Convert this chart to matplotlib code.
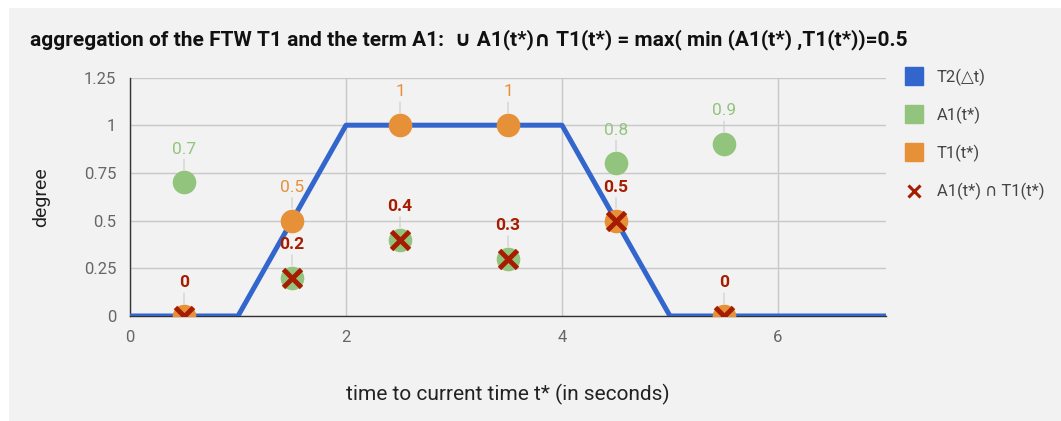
#!/usr/bin/env python3
# -*- coding: utf-8 -*-

import matplotlib
matplotlib.use("Agg")
import matplotlib.pyplot as plt
from matplotlib.lines import Line2D
from matplotlib.patches import Rectangle

plt.rcParams['font.family'] = ['Roboto', 'DejaVu Sans']

# data
t2_x = [0, 1, 2, 4, 5, 7]
t2_y = [0, 0, 1, 1, 0, 0]

t_pts = [0.5, 1.5, 2.5, 3.5, 4.5, 5.5]
a1 = [0.7, 0.2, 0.4, 0.3, 0.8, 0.9]
t1 = [0, 0.5, 1, 1, 0.5, 0]
a1_and_t1 = [0, 0.2, 0.4, 0.3, 0.5, 0]

yticks = [0, 0.25, 0.5, 0.75, 1, 1.25]
ytick_labels = ['0', '0.25', '0.5', '0.75', '1', '1.25']
xticks = [0, 2, 4, 6]

title = "aggregation of the FTW T1 and the term A1:  \u222A A1(t*)\u2229 T1(t*) = max( min (A1(t*) ,T1(t*))=0.5"

BLUE = '#3366cc'
GREEN = '#93c47d'
ORANGE = '#e69138'
RED = '#a61c00'
BG = '#f2f2f2'

fig = plt.figure(figsize=(10.61, 4.21), dpi=100)
fig.patch.set_facecolor('white')
fig.patches.append(Rectangle((9 / 1061, 0), 1, 1 - 8 / 421, transform=fig.transFigure,
                             facecolor=BG, edgecolor='none', zorder=-10))

ax = fig.add_axes([130 / 1061, 105 / 421, 756 / 1061, 238.5 / 421])
ax.set_facecolor(BG)

ax.plot(t2_x, t2_y, color=BLUE, lw=3.6, zorder=3, solid_capstyle='butt')
ax.plot(t_pts, a1, 'o', color=GREEN, ms=17, mew=0, zorder=4)
ax.plot(t_pts, t1, 'o', color=ORANGE, ms=17, mew=0, zorder=5)
ax.plot(t_pts, a1_and_t1, 'x', color=RED, ms=13, mew=3.5, zorder=6)

def label(x, y, txt, color, bold=False):
    ax.annotate(txt, (x, y), xytext=(0, 24), textcoords='offset points',
                ha='center', va='center', color=color, fontsize=12.5,
                fontweight='bold' if bold else 'normal', zorder=7,
                arrowprops=dict(arrowstyle='-', color='#cccccc', lw=0.8,
                                shrinkA=0, shrinkB=9))

for x, a, b, c in zip(t_pts, a1, t1, a1_and_t1):
    if a > b:
        label(x, a, f"{a:g}", GREEN)
    else:
        label(x, b, f"{b:g}", ORANGE)
    label(x, c, f"{c:g}", RED, bold=True)

ax.set_xlim(0, 7)
ax.set_ylim(0, 1.25)
ax.set_yticks(yticks)
ax.set_yticklabels(ytick_labels)
ax.set_xticks(xticks)
ax.tick_params(length=0, labelsize=12, colors='#666666', pad=10)
ax.grid(True, color='#c8c8c8', lw=1)
ax.set_axisbelow(True)
for s in ['top', 'right']:
    ax.spines[s].set_visible(False)
for s in ['left', 'bottom']:
    ax.spines[s].set_color('#333333')
    ax.spines[s].set_linewidth(1)
    ax.spines[s].set_zorder(2.5)

ax.set_ylabel("degree", fontsize=14, color='#222222', labelpad=24)
ax.set_xlabel("time to current time t* (in seconds)", fontsize=15, color='#222222', labelpad=28)

fig.text(30 / 1061, 1 - 40 / 421, title, fontsize=15, fontweight='bold',
         va='center', ha='left', color='#111111')

handles = [
    Line2D([], [], marker='s', ls='none', color=BLUE, ms=13),
    Line2D([], [], marker='s', ls='none', color=GREEN, ms=13),
    Line2D([], [], marker='s', ls='none', color=ORANGE, ms=13),
    Line2D([], [], marker='x', ls='none', color=RED, ms=8, mew=2.2),
]
labels = ["T2(\u25b3t)", "A1(t*)", "T1(t*)", "A1(t*) \u2229 T1(t*)"]
leg = fig.legend(handles, labels, loc='upper left', bbox_to_anchor=(897 / 1061, 1 - 62 / 421),
                 frameon=False, fontsize=12, labelspacing=1.25, handletextpad=0.8,
                 handlelength=1.2, borderaxespad=0)
for tx in leg.get_texts():
    tx.set_color('#444444')

fig.savefig("out.png", dpi=100, facecolor='white')
